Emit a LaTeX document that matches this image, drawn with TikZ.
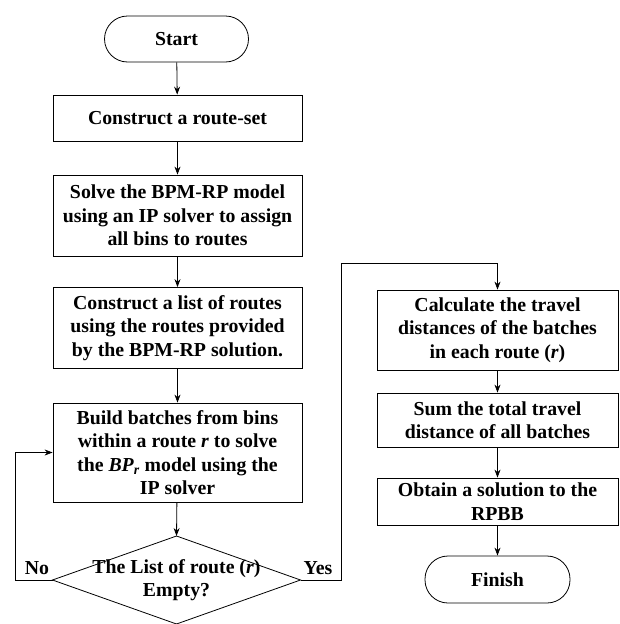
\documentclass[tikz,border=0pt]{standalone}
\usepackage{fontspec}
\setmainfont{Liberation Serif}
\usetikzlibrary{arrows.meta}
\begin{document}
\begin{tikzpicture}[x=1pt,y=-1pt,
  every node/.style={font=\fontsize{19.8}{23.5}\selectfont\bfseries, align=center, inner sep=0pt},
  procbox/.style={draw, line width=0.8pt, rectangle, minimum width=#1},
  procbox/.default=249pt,
  termbox/.style={draw, line width=0.8pt, rounded corners=23pt, minimum width=144pt, minimum height=46pt},
  flow/.style={line width=0.8pt, -{Stealth[length=8pt,width=6pt]}},
  lbl/.style={font=\fontsize{19.8}{23.5}\selectfont\bfseries}
]
\useasboundingbox (0,0) rectangle (619,624);
\node[termbox] (start) at (176.5,39) {Start};
\node[procbox, minimum height=46pt] (rs) at (177.5,118) {Construct a route-set};
\node[procbox, minimum height=81pt] (solve) at (177.5,215.5) {Solve the BPM-RP model\\using an IP solver to assign\\all bins to routes};
\node[procbox, minimum height=81pt] (list) at (177.5,328) {Construct a list of routes\\using the routes provided\\by the BPM-RP solution.};
\node[procbox, minimum height=99pt] (build) at (177.5,452.5) {Build batches from bins\\within a route \textit{r} to solve\\the \textit{BP\textsubscript{r}} model using the\\IP solver};
\coordinate (dn) at (176.5,536);
\coordinate (dw) at (52.5,580);
\coordinate (de) at (300.5,580);
\coordinate (ds) at (176.5,624);
\draw[line width=0.8pt] (dn) -- (de) -- (ds) -- (dw) -- cycle;
\node (dia) at (176.5,580) {The List of route (\textit{r})\\Empty?};
\node[procbox=241pt, minimum height=80pt] (calc) at (497.5,330) {Calculate the travel\\distances of the batches\\in each route (\textit{r})};
\node[procbox=241pt, minimum height=54pt] (sum) at (497.5,420) {Sum the total travel\\distance of all batches};
\node[procbox=241pt, minimum height=47pt] (obt) at (497.5,501.5) {Obtain a solution to the\\RPBB};
\node[termbox, minimum width=145pt, minimum height=47pt] (fin) at (497.5,579.5) {Finish};
\node[lbl] (no) at (37,568) {No};
\node[lbl] (yes) at (318,568) {Yes};
\coordinate (nl) at (15,580);
\coordinate (yr) at (341,580);
\coordinate (yt) at (341,263);
\draw[flow] (start) -- (rs);
\draw[flow] (rs) -- (solve);
\draw[flow] (solve) -- (list);
\draw[flow] (list) -- (build);
\draw[flow] (build) -- (dn);
\draw[flow] (dw) -- (nl) |- (build.west);
\draw[flow] (de) -- (yr) -- (yt) -| (calc.north);
\draw[flow] (calc) -- (sum);
\draw[flow] (sum) -- (obt);
\draw[flow] (obt) -- (fin);
\end{tikzpicture}
\end{document}
